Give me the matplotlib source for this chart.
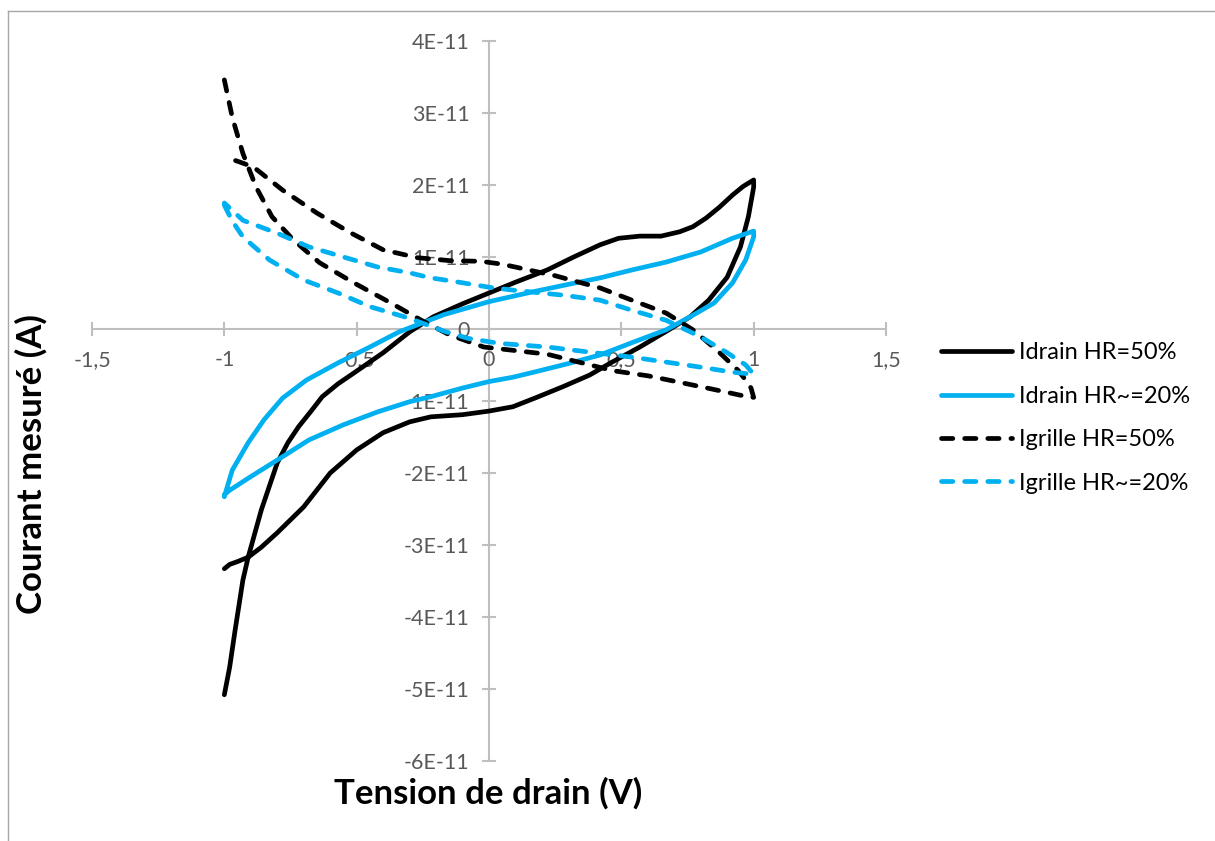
import numpy as np
import matplotlib
matplotlib.use("Agg")
import matplotlib.pyplot as plt
from matplotlib.ticker import FuncFormatter, FixedLocator
from matplotlib.lines import Line2D

plt.rcParams["font.family"] = ["Lato", "DejaVu Sans"]

SCALE = 1e-11  # currents below are in units of 1E-11 A

# --- Idrain HR=50% (black solid loop) ---
v_d50 = [-1.0, -0.98, -0.96, -0.93, -0.91, -0.86, -0.8, -0.76, -0.72, -0.67, -0.63,
         -0.57, -0.51, -0.4, -0.3, -0.21, -0.1, 0.0, 0.1, 0.22, 0.32, 0.42, 0.49,
         0.57, 0.65, 0.72, 0.77, 0.82, 0.87, 0.92, 0.96, 1.0,
         1.0, 0.98, 0.95, 0.9, 0.83, 0.76, 0.68, 0.57, 0.46, 0.38, 0.28, 0.18,
         0.09, 0.0, -0.1, -0.22, -0.3, -0.4, -0.5, -0.6, -0.7, -0.8, -0.86,
         -0.91, -0.95, -0.98, -1.0]
i_d50 = [-5.08, -4.7, -4.2, -3.49, -3.17, -2.51, -1.86, -1.58, -1.36, -1.13, -0.94,
         -0.76, -0.61, -0.33, -0.04, 0.17, 0.35, 0.5, 0.65, 0.82, 1.0, 1.17, 1.26,
         1.29, 1.29, 1.35, 1.42, 1.54, 1.69, 1.86, 1.98, 2.07,
         1.97, 1.56, 1.14, 0.72, 0.4, 0.17, -0.01, -0.25, -0.47, -0.64, -0.8, -0.95,
         -1.08, -1.14, -1.19, -1.22, -1.29, -1.44, -1.68, -2.0, -2.47, -2.83, -3.03,
         -3.17, -3.23, -3.27, -3.33]

# --- Idrain HR~=20% (blue solid loop) ---
v_d20 = [-1.0, -0.97, -0.91, -0.85, -0.78, -0.69, -0.57, -0.45, -0.34, -0.17,
         0.0, 0.17, 0.3, 0.42, 0.54, 0.67, 0.8, 0.92, 1.0,
         1.0, 0.97, 0.92, 0.85, 0.76, 0.67, 0.54, 0.42, 0.3, 0.18, 0.09, 0.0,
         -0.1, -0.22, -0.3, -0.42, -0.55, -0.68, -0.8, -0.9, -0.98, -1.0]
i_d20 = [-2.33, -1.96, -1.58, -1.26, -0.96, -0.71, -0.47, -0.25, -0.04, 0.2,
         0.38, 0.52, 0.62, 0.71, 0.82, 0.93, 1.07, 1.26, 1.36,
         1.28, 0.96, 0.64, 0.36, 0.17, -0.01, -0.19, -0.36, -0.48, -0.59, -0.67, -0.73,
         -0.82, -0.94, -1.01, -1.15, -1.33, -1.54, -1.82, -2.05, -2.24, -2.3]

# --- Igrille HR=50% (black dashed loop) ---
v_g50 = [-1.0, -0.97, -0.93, -0.88, -0.82, -0.74, -0.64, -0.51, -0.37, -0.26,
         -0.15, -0.02, 0.1, 0.22, 0.35, 0.47, 0.6, 0.72, 0.85, 0.95, 1.0,
         0.99, 0.97, 0.94, 0.86, 0.77, 0.67, 0.54, 0.42, 0.34, 0.25, 0.15, 0.05,
         -0.03, -0.15, -0.27, -0.4, -0.52, -0.65, -0.78, -0.89, -0.95, -1.0]
i_g50 = [3.46, 2.94, 2.44, 1.97, 1.56, 1.24, 0.92, 0.64, 0.36, 0.13,
         -0.08, -0.25, -0.3, -0.35, -0.47, -0.58, -0.65, -0.74, -0.84, -0.92, -0.95,
         -0.82, -0.71, -0.57, -0.29, -0.01, 0.22, 0.4, 0.57, 0.65, 0.74, 0.82, 0.9,
         0.94, 0.95, 0.99, 1.1, 1.33, 1.61, 1.93, 2.25, 2.33, 2.39]

# --- Igrille HR~=20% (blue dashed loop) ---
v_g20 = [-1.0, -0.97, -0.93, -0.83, -0.7, -0.57, -0.45, -0.32, -0.25, -0.17,
         -0.08, 0.04, 0.22, 0.4, 0.54, 0.67, 0.8, 0.92, 1.0,
         0.97, 0.9, 0.8, 0.67, 0.54, 0.42, 0.28, 0.09, 0.0, -0.13, -0.22, -0.3,
         -0.42, -0.55, -0.68, -0.8, -0.93, -1.0]
i_g20 = [1.72, 1.5, 1.28, 0.96, 0.68, 0.5, 0.31, 0.17, 0.08, -0.03,
         -0.13, -0.2, -0.25, -0.33, -0.39, -0.46, -0.53, -0.6, -0.63,
         -0.5, -0.33, -0.11, 0.12, 0.26, 0.4, 0.47, 0.54, 0.58, 0.66, 0.71, 0.78,
         0.86, 1.0, 1.14, 1.33, 1.51, 1.75]

x_ticks = [-1.5, -1.0, -0.5, 0.0, 0.5, 1.0, 1.5]
y_ticks = [-6, -5, -4, -3, -2, -1, 0, 1, 2, 3, 4]

labels = ["Idrain HR=50%", "Idrain HR~=20%", "Igrille HR=50%", "Igrille HR~=20%"]
BLACK = "#000000"
BLUE = "#00B0F0"
GREY = "#BFBFBF"
TXT = "#595959"

fig = plt.figure(figsize=(12.15, 8.41), dpi=100)
ax = fig.add_axes([92 / 1215, 1 - 761 / 841, 794 / 1215, 720 / 841])

lw = 3.4
dash = (2.4, 2.5)
ax.plot(v_d50, np.array(i_d50) * SCALE, color=BLACK, lw=lw, solid_joinstyle="round",
        solid_capstyle="round", label=labels[0], zorder=3)
ax.plot(v_d20, np.array(i_d20) * SCALE, color=BLUE, lw=lw, solid_joinstyle="round",
        solid_capstyle="round", label=labels[1], zorder=3)
ax.plot(v_g50, np.array(i_g50) * SCALE, color=BLACK, lw=lw, dashes=dash,
        dash_capstyle="round", dash_joinstyle="round", label=labels[2], zorder=3)
ax.plot(v_g20, np.array(i_g20) * SCALE, color=BLUE, lw=lw, dashes=dash,
        dash_capstyle="round", dash_joinstyle="round", label=labels[3], zorder=3)

ax.set_xlim(-1.5, 1.5)
ax.set_ylim(-6e-11, 4e-11)

# Excel-style axes crossing at zero
for s in ["top", "right"]:
    ax.spines[s].set_visible(False)
ax.spines["left"].set_position(("data", 0))
ax.spines["bottom"].set_position(("data", 0))
for s in ["left", "bottom"]:
    ax.spines[s].set_color(GREY)
    ax.spines[s].set_linewidth(1.5)
    ax.spines[s].set_zorder(1)

ax.xaxis.set_major_locator(FixedLocator(x_ticks))
ax.yaxis.set_major_locator(FixedLocator([t * SCALE for t in y_ticks]))


def xfmt(v, pos):
    if abs(v) < 1e-9:
        return "0"
    return f"{v:g}".replace(".", ",")


def yfmt(v, pos):
    n = int(round(v / SCALE))
    return "0" if n == 0 else f"{n}E-11"


ax.xaxis.set_major_formatter(FuncFormatter(xfmt))
ax.yaxis.set_major_formatter(FuncFormatter(yfmt))
ax.tick_params(axis="both", direction="inout", length=10, width=1.5, color=GREY,
               labelcolor=TXT, labelsize=15.5)
ax.tick_params(axis="x", pad=10)
ax.tick_params(axis="y", pad=9)

# axis titles placed like the Excel chart
fig.text(488 / 1215, 1 - 793 / 841, "Tension de drain (V)", ha="center", va="center",
         fontsize=25, fontweight="bold", color=BLACK)
fig.text(31 / 1215, 1 - 464 / 841, "Courant mesuré (A)", ha="center", va="center",
         rotation=90, fontsize=25, fontweight="bold", color=BLACK)

handles = [
    Line2D([], [], color=BLACK, lw=lw, solid_capstyle="round"),
    Line2D([], [], color=BLUE, lw=lw, solid_capstyle="round"),
    Line2D([], [], color=BLACK, lw=lw, dashes=dash, dash_capstyle="round"),
    Line2D([], [], color=BLUE, lw=lw, dashes=dash, dash_capstyle="round"),
]
fig.legend(handles, labels, loc="upper left", bbox_to_anchor=(932 / 1215, 1 - 333 / 841),
           frameon=False, fontsize=17, handlelength=3.0, handletextpad=0.3,
           labelspacing=0.95, borderaxespad=0)

# outer chart border
fig.add_artist(Line2D([8 / 1215, 8 / 1215], [0, 1 - 11 / 841], color="#A6A6A6", lw=1,
                      transform=fig.transFigure))
fig.add_artist(Line2D([8 / 1215, 1], [1 - 11 / 841, 1 - 11 / 841], color="#A6A6A6", lw=1,
                      transform=fig.transFigure))

fig.savefig("out.png", dpi=100, facecolor="white")
